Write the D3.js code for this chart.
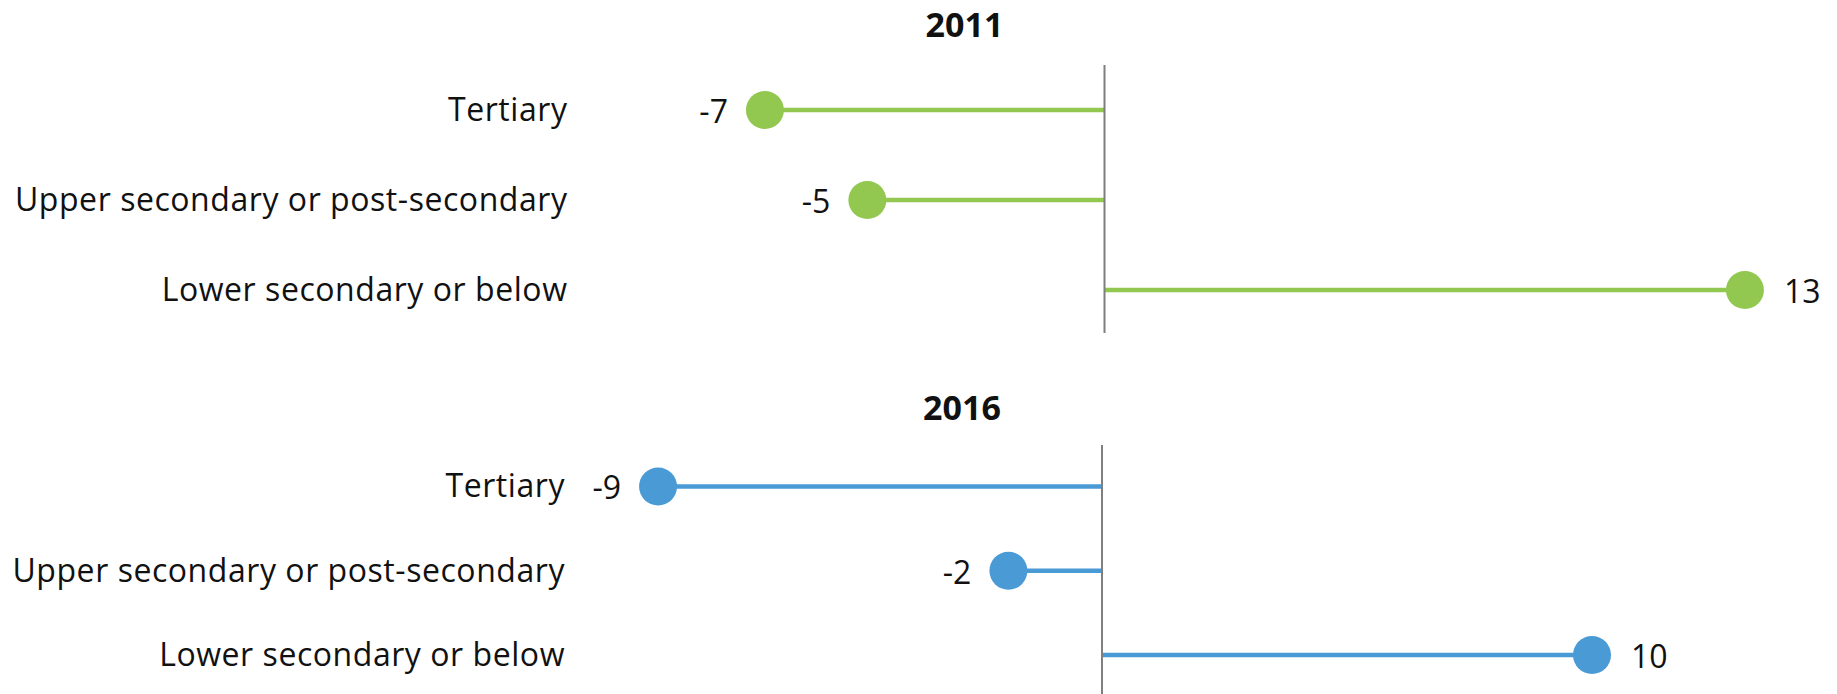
<!DOCTYPE html>
<html>
<head>
<meta charset="utf-8">
<script src="https://cdn.jsdelivr.net/npm/d3@7"></script>
<style>
    body { margin: 0; background: #fff; }
    text { font-family: "Open Sans", "Noto Sans", sans-serif; fill: #111; }
</style>
</head>
<body>
<svg id="chart" width="1837" height="694"></svg>
<script>
// data
var categories = ["Tertiary", "Upper secondary or post-secondary", "Lower secondary or below"];
var years = ["2011", "2016"];
var values2011 = [-6.93, -4.84, 13.07];
var values2016 = [-9.06, -1.91, 10.0];
var labels2011 = ["-7", "-5", "13"];
var labels2016 = ["-9", "-2", "10"];
var colors = ["#92c850", "#4a9ad6"];

var svg = d3.select("#chart");

// shared horizontal scale, zero sits on the vertical axis line
var x = d3.scaleLinear()
    .domain([-10, 14])
    .range([613, 1789]);

// each panel: its own row spread, axis extent and title line
var panels = [
    {year: years[0], values: values2011, labels: labels2011, color: colors[0],
     dx: 1.5, rows: [110, 290], axis: [65, 333], titleY: 37},
    {year: years[1], values: values2016, labels: labels2016, color: colors[1],
     dx: -1, rows: [486.5, 655], axis: [445, 700], titleY: 420}
];

panels.forEach(function(p) {

    var g = svg.append("g")
        .attr("transform", "translate(" + p.dx + ",0)");

    var y = d3.scalePoint()
        .domain(categories)
        .range(p.rows);

    var rows = categories.map(function(c, i) {
        return {cat: c, value: p.values[i], label: p.labels[i]};
    });

    // title
    g.append("text")
        .attr("x", 963)
        .attr("y", p.titleY)
        .attr("text-anchor", "middle")
        .style("font-size", "34px")
        .style("font-weight", "bold")
        .text(p.year);

    // category labels
    g.selectAll(".cat")
        .data(rows)
        .enter().append("text")
        .attr("class", "cat")
        .attr("x", 566)
        .attr("y", function(d) { return y(d.cat); })
        .attr("dy", "0.34em")
        .attr("text-anchor", "end")
        .style("font-size", "32px")
        .style("letter-spacing", "0.55px")
        .text(function(d) { return d.cat; });

    // stems
    g.selectAll(".stem")
        .data(rows)
        .enter().append("line")
        .attr("class", "stem")
        .attr("x1", x(0))
        .attr("x2", function(d) { return x(d.value); })
        .attr("y1", function(d) { return y(d.cat); })
        .attr("y2", function(d) { return y(d.cat); })
        .style("stroke", p.color)
        .style("stroke-width", 4.5);

    // zero axis
    g.append("line")
        .attr("x1", x(0))
        .attr("x2", x(0))
        .attr("y1", p.axis[0])
        .attr("y2", p.axis[1])
        .style("stroke", "#7f7f7f")
        .style("stroke-width", 2);

    // dots
    g.selectAll(".dot")
        .data(rows)
        .enter().append("circle")
        .attr("class", "dot")
        .attr("cx", function(d) { return x(d.value); })
        .attr("cy", function(d) { return y(d.cat); })
        .attr("r", 19)
        .style("fill", p.color);

    // value labels
    g.selectAll(".val")
        .data(rows)
        .enter().append("text")
        .attr("class", "val")
        .attr("x", function(d) { return x(d.value) + (d.value < 0 ? -37 : 39); })
        .attr("y", function(d) { return y(d.cat); })
        .attr("dy", "0.4em")
        .attr("text-anchor", function(d) { return d.value < 0 ? "end" : "start"; })
        .style("font-size", "32px")
        .text(function(d) { return d.label; });
});
</script>
</body>
</html>
